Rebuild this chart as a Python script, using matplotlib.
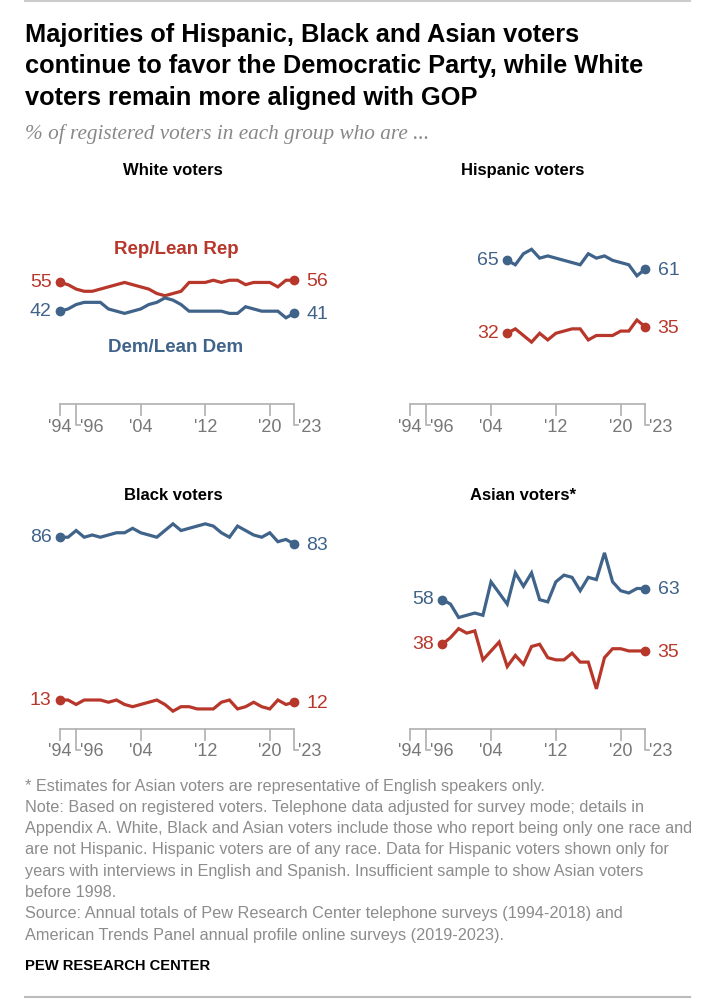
import numpy as np
import matplotlib
matplotlib.use("Agg")
import matplotlib.pyplot as plt
from matplotlib.lines import Line2D

# ---- data ----
white_years = list(range(1994, 2024))
white_rep = [55, 54, 52, 51, 51, 52, 53, 54, 55, 54, 53, 52, 50, 49, 50, 51,
             55, 55, 55, 56, 55, 56, 56, 54, 55, 55, 55, 53, 56, 56]
white_dem = [42, 43, 45, 46, 46, 46, 43, 42, 41, 42, 43, 45, 46, 48, 47, 45,
             42, 42, 42, 42, 42, 41, 41, 44, 43, 42, 42, 42, 39, 41]

hisp_years = list(range(2006, 2024))
hisp_dem = [65, 63, 68, 70, 66, 67, 66, 65, 64, 63, 68, 66, 67, 65, 64, 63, 58, 61]
hisp_rep = [32, 34, 31, 28, 32, 29, 32, 33, 34, 34, 29, 31, 31, 31, 33, 33, 38, 35]

black_years = list(range(1994, 2024))
black_dem = [86, 86, 89, 86, 87, 86, 87, 88, 88, 90, 88, 87, 86, 89, 92, 89,
             90, 91, 92, 91, 88, 86, 91, 89, 87, 86, 88, 84, 85, 83]
black_rep = [13, 13, 11, 13, 13, 13, 12, 13, 11, 10, 11, 12, 13, 11, 8, 10,
             10, 9, 9, 9, 12, 13, 9, 10, 12, 10, 9, 13, 11, 12]

asian_years = list(range(1998, 2024))
asian_dem = [58, 56, 50, 51, 52, 51, 66, 61, 56, 70, 64, 70, 58, 57, 66, 69,
             68, 62, 68, 67, 79, 66, 62, 61, 63, 63]
asian_rep = [38, 41, 45, 43, 44, 31, 35, 39, 28, 33, 29, 37, 38, 32, 31, 31,
             34, 30, 30, 18, 32, 36, 36, 35, 35, 35]

tick_years = [1994, 2004, 2012, 2020]
bent_ticks = [1996, 2023]

REP = "#b8372b"
DEM = "#40638a"
GRAY = "#8c8c8c"
AXIS = "#b5b5b5"

SANS = ["Liberation Sans", "DejaVu Sans"]

W, H = 708, 1000
fig = plt.figure(figsize=(W / 100, H / 100), dpi=100)


def fx(x):
    return x / W


def fy(y):
    return 1 - y / H


def make_ax(left, top_px, bottom_px, width=234):
    ax = fig.add_axes([fx(left), fy(bottom_px), width / W, (bottom_px - top_px) / H])
    ax.set_xlim(1994, 2023)
    ax.set_ylim(0, 100)
    for s in ax.spines.values():
        s.set_visible(False)
    ax.set_xticks([])
    ax.set_yticks([])
    ax.patch.set_alpha(0)
    # axis line + ticks drawn by hand (Pew style)
    ppy = (bottom_px - top_px) / 100.0   # px per y unit
    ppx = width / 29.0                    # px per year
    ax.plot([1994, 2023], [0, 0], color=AXIS, lw=1.3, clip_on=False)
    for yr in tick_years:
        ax.plot([yr, yr], [0, -11 / ppy], color=AXIS, lw=1.3, clip_on=False)
        ax.text(yr, -23 / ppy, "'" + str(yr)[2:], ha="center", va="center",
                fontsize=13, color="#777777", family=SANS)
    for yr in bent_ticks:
        ax.plot([yr, yr, yr + 4 / ppx], [0, -21 / ppy, -21 / ppy], color=AXIS,
                lw=1.3, clip_on=False)
        ax.text(yr + 4 / ppx, -23 / ppy, "'" + str(yr)[2:], ha="left", va="center",
                fontsize=13, color="#777777", family=SANS)
    return ax


def draw_series(ax, years, vals, color):
    ax.plot(years, vals, color=color, lw=2.3, solid_joinstyle="miter", clip_on=False)
    ax.plot([years[0], years[-1]], [vals[0], vals[-1]], "o", color=color, ms=6, clip_on=False)
    ax.annotate(str(vals[0]), (years[0], vals[0]), xytext=(-6, 0),
                textcoords="offset points", ha="right", va="center",
                fontsize=14, color=color, family=SANS)
    ax.annotate(str(vals[-1]), (years[-1], vals[-1]), xytext=(9, -1),
                textcoords="offset points", ha="left", va="center",
                fontsize=14, color=color, family=SANS)


ax_w = make_ax(60, 183, 404)
draw_series(ax_w, white_years, white_rep, REP)
draw_series(ax_w, white_years, white_dem, DEM)

ax_h = make_ax(410, 183, 404, width=235)
draw_series(ax_h, hisp_years, hisp_dem, DEM)
draw_series(ax_h, hisp_years, hisp_rep, REP)

ax_b = make_ax(60, 506, 729)
draw_series(ax_b, black_years, black_dem, DEM)
draw_series(ax_b, black_years, black_rep, REP)

ax_a = make_ax(410, 506, 729, width=235)
draw_series(ax_a, asian_years, asian_dem, DEM)
draw_series(ax_a, asian_years, asian_rep, REP)

# series labels in the White panel
fig.text(fx(176), fy(250), "Rep/Lean Rep", ha="center", va="center",
         fontsize=13.5, fontweight="bold", color=REP, family=SANS)
fig.text(fx(176), fy(347), "Dem/Lean Dem", ha="center", va="center",
         fontsize=13.5, fontweight="bold", color=DEM, family=SANS)

# panel titles
for x, y, t in [(173, 175, "White voters"), (523, 175, "Hispanic voters"),
                (173, 500, "Black voters"), (523, 500, "Asian voters*")]:
    fig.text(fx(x), fy(y), t, ha="center", va="baseline", fontsize=12,
             fontweight="bold", color="black", family=SANS)

# title / subtitle
title_lines = ["Majorities of Hispanic, Black and Asian voters",
               "continue to favor the Democratic Party, while White",
               "voters remain more aligned with GOP"]
for i, line in enumerate(title_lines):
    fig.text(fx(25), fy(35 + i * 31.5), line, ha="left", va="center",
             fontsize=18.3, fontweight="bold", color="black", family=SANS)
fig.text(fx(25), fy(134), "% of registered voters in each group who are ...",
         ha="left", va="center", fontsize=15.3, style="italic", color="#888888",
         family=["Liberation Serif", "DejaVu Serif"])

# notes
notes = ["* Estimates for Asian voters are representative of English speakers only.",
         "Note: Based on registered voters. Telephone data adjusted for survey mode; details in",
         "Appendix A. White, Black and Asian voters include those who report being only one race and",
         "are not Hispanic. Hispanic voters are of any race. Data for Hispanic voters shown only for",
         "years with interviews in English and Spanish. Insufficient sample to show Asian voters",
         "before 1998.",
         "Source: Annual totals of Pew Research Center telephone surveys (1994-2018) and",
         "American Trends Panel annual profile online surveys (2019-2023)."]
for i, line in enumerate(notes):
    fig.text(fx(25), fy(786 + i * 21.3), line, ha="left", va="center",
             fontsize=11.7, color=GRAY, family=SANS)
fig.text(fx(25), fy(966), "PEW RESEARCH CENTER", ha="left", va="center",
         fontsize=10.6, fontweight="bold", color="black", family=SANS)

# rules top and bottom
fig.add_artist(Line2D([fx(25), fx(690)], [fy(1), fy(1)], color="#cccccc", lw=1.5))
fig.add_artist(Line2D([fx(25), fx(690)], [fy(997), fy(997)], color="#bbbbbb", lw=1.5))

fig.savefig("out.png", dpi=100, facecolor="white")
